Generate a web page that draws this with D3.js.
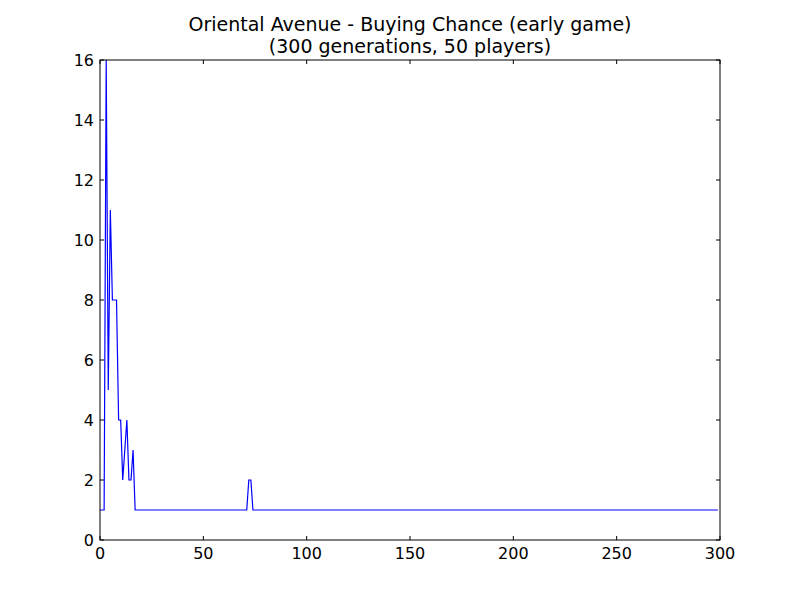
<!DOCTYPE html>
<html><head><meta charset="utf-8">
<script src="https://cdn.jsdelivr.net/npm/d3@7"></script>
<style>body{margin:0;background:#fff}</style></head>
<body><svg id="c" width="800" height="600"></svg>
<script>
const earlyValues = [1,1,1,16,5,11,8,8,8,4,4,2,3,4,2,2,3,1];
const spikeStart = 72, spikeValues = [2,2];
const totalGenerations = 300;
const xTicks = [0,50,100,150,200,250,300];
const yTicks = [0,2,4,6,8,10,12,14,16];
const data = [];
for (let i = 0; i < totalGenerations; i++) {
  let v = 1;
  if (i < earlyValues.length) v = earlyValues[i];
  else if (i >= spikeStart && i < spikeStart + spikeValues.length) v = spikeValues[i - spikeStart];
  data.push([i, v]);
}
const svg = d3.select("#c");
const L=100,R=720,T=60,B=540;
const x = d3.scaleLinear().domain([0,300]).range([L,R]);
const y = d3.scaleLinear().domain([0,16]).range([B,T]);
const font = "'DejaVu Sans', sans-serif";
svg.append("path").datum(data).attr("fill","none").attr("stroke","blue").attr("stroke-width",1.2)
  .attr("d", d3.line().x(d=>x(d[0])).y(d=>y(d[1])));
svg.append("rect").attr("x",L).attr("y",T).attr("width",R-L).attr("height",B-T).attr("fill","none").attr("stroke","#000");
const tk = 4;
xTicks.forEach(t=>{
  svg.append("line").attr("x1",x(t)).attr("x2",x(t)).attr("y1",B).attr("y2",B-tk).attr("stroke","#000");
  svg.append("line").attr("x1",x(t)).attr("x2",x(t)).attr("y1",T).attr("y2",T+tk).attr("stroke","#000");
  svg.append("text").attr("x",x(t)).attr("y",B+19).attr("text-anchor","middle").attr("font-family",font).attr("font-size",16).text(t);
});
yTicks.forEach(t=>{
  svg.append("line").attr("x1",L).attr("x2",L+tk).attr("y1",y(t)).attr("y2",y(t)).attr("stroke","#000");
  svg.append("line").attr("x1",R).attr("x2",R-tk).attr("y1",y(t)).attr("y2",y(t)).attr("stroke","#000");
  svg.append("text").attr("x",L-6).attr("y",y(t)+6).attr("text-anchor","end").attr("font-family",font).attr("font-size",16).text(t);
});
svg.append("text").attr("x",410).attr("y",31).attr("text-anchor","middle").attr("font-family",font).attr("font-size",19).text("Oriental Avenue - Buying Chance (early game)");
svg.append("text").attr("x",410).attr("y",53).attr("text-anchor","middle").attr("font-family",font).attr("font-size",19).text("(300 generations, 50 players)");
</script></body></html>
